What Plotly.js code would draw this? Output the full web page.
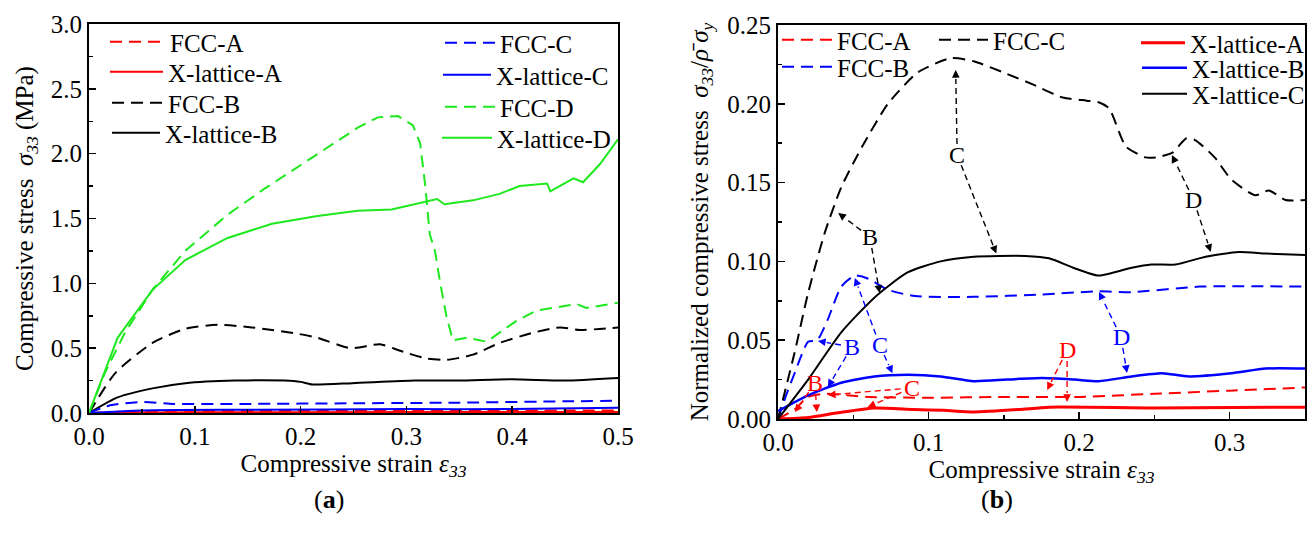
<!DOCTYPE html>
<html><head><meta charset="utf-8">
<script src="https://cdn.plot.ly/plotly-3.0.1.min.js"></script>
<style>html,body{margin:0;padding:0;background:#fff;}#chart{width:1316px;height:534px;}</style>
</head><body><div id="chart"></div>
<script>
// ---------- Panel (a): compressive stress (MPa) vs strain ----------
const aFccA_x = [0, 0.05, 0.2, 0.35, 0.5];
const aFccA_y = [0, 0.015, 0.015, 0.018, 0.02];
const aXlA_x = [0, 0.1, 0.3, 0.5];
const aXlA_y = [0, 0.005, 0.007, 0.008];
const aFccB_x = [0, 0.025, 0.06, 0.091, 0.122, 0.154, 0.198, 0.216, 0.247, 0.275, 0.294, 0.319, 0.338, 0.363, 0.388, 0.42, 0.445, 0.464, 0.5];
const aFccB_y = [0, 0.31, 0.54, 0.65, 0.68, 0.66, 0.61, 0.58, 0.50, 0.53, 0.48, 0.42, 0.41, 0.45, 0.54, 0.62, 0.66, 0.64, 0.66];
const aXlB_x = [0, 0.027, 0.06, 0.091, 0.138, 0.185, 0.2, 0.211, 0.249, 0.308, 0.35, 0.4, 0.45, 0.5];
const aXlB_y = [0, 0.12, 0.19, 0.23, 0.25, 0.25, 0.24, 0.22, 0.23, 0.25, 0.25, 0.26, 0.25, 0.27];
const aFccC_x = [0, 0.02, 0.05, 0.08, 0.15, 0.25, 0.35, 0.45, 0.5];
const aFccC_y = [0, 0.06, 0.085, 0.07, 0.07, 0.075, 0.08, 0.09, 0.095];
const aXlC_x = [0, 0.05, 0.15, 0.3, 0.4, 0.5];
const aXlC_y = [0, 0.02, 0.025, 0.03, 0.03, 0.04];
const aFccD_x = [0, 0.015, 0.034, 0.06, 0.091, 0.131, 0.166, 0.217, 0.254, 0.273, 0.292, 0.306, 0.313, 0.318, 0.322, 0.327, 0.332, 0.338, 0.344, 0.357, 0.376, 0.388, 0.404, 0.423, 0.439, 0.461, 0.47, 0.5];
const aFccD_y = [0, 0.31, 0.62, 0.95, 1.25, 1.53, 1.73, 2.0, 2.2, 2.28, 2.29, 2.22, 2.08, 1.74, 1.38, 1.25, 1.0, 0.74, 0.56, 0.58, 0.55, 0.62, 0.71, 0.79, 0.81, 0.84, 0.81, 0.85];
const aXlD_x = [0, 0.027, 0.06, 0.091, 0.131, 0.173, 0.216, 0.254, 0.286, 0.308, 0.329, 0.336, 0.363, 0.388, 0.407, 0.433, 0.436, 0.458, 0.467, 0.483, 0.5];
const aXlD_y = [0, 0.58, 0.95, 1.18, 1.35, 1.46, 1.52, 1.56, 1.57, 1.61, 1.65, 1.61, 1.64, 1.69, 1.75, 1.77, 1.71, 1.81, 1.78, 1.92, 2.11];

// ---------- Panel (b): normalized stress vs strain ----------
const bFccA_x = [0, 0.011, 0.02, 0.031, 0.06, 0.1, 0.15, 0.2, 0.25, 0.3, 0.35];
const bFccA_y = [0, 0.006, 0.014, 0.016, 0.014, 0.0135, 0.014, 0.014, 0.016, 0.018, 0.02];
const bFccB_x = [0, 0.005, 0.011, 0.02, 0.026, 0.033, 0.042, 0.051, 0.06, 0.073, 0.091, 0.13, 0.175, 0.213, 0.235, 0.28, 0.35];
const bFccB_y = [0, 0.014, 0.029, 0.049, 0.05, 0.063, 0.084, 0.091, 0.089, 0.082, 0.078, 0.0775, 0.079, 0.081, 0.0805, 0.084, 0.084];
const bFccC_x = [0, 0.011, 0.02, 0.031, 0.042, 0.056, 0.073, 0.093, 0.115, 0.13, 0.152, 0.17, 0.189, 0.205, 0.213, 0.22, 0.231, 0.244, 0.251, 0.262, 0.271, 0.277, 0.29, 0.301, 0.317, 0.326, 0.337, 0.35];
const bFccC_y = [0, 0.042, 0.08, 0.118, 0.147, 0.173, 0.2, 0.22, 0.229, 0.227, 0.219, 0.212, 0.204, 0.202, 0.201, 0.197, 0.173, 0.166, 0.166, 0.169, 0.178, 0.177, 0.166, 0.152, 0.142, 0.145, 0.139, 0.139];
const bXlA_x = [0, 0.02, 0.04, 0.064, 0.09, 0.11, 0.13, 0.16, 0.18, 0.25, 0.35];
const bXlA_y = [0, 0.001, 0.004, 0.007, 0.006, 0.0055, 0.0045, 0.006, 0.0075, 0.007, 0.0075];
const bXlB_x = [0, 0.02, 0.042, 0.064, 0.086, 0.108, 0.13, 0.152, 0.175, 0.197, 0.213, 0.235, 0.255, 0.273, 0.301, 0.324, 0.35];
const bXlB_y = [0.005, 0.015, 0.023, 0.027, 0.028, 0.027, 0.024, 0.025, 0.026, 0.025, 0.024, 0.027, 0.029, 0.027, 0.029, 0.032, 0.032];
const bXlC_x = [0, 0.02, 0.042, 0.064, 0.086, 0.108, 0.13, 0.147, 0.164, 0.18, 0.196, 0.213, 0.235, 0.248, 0.264, 0.284, 0.306, 0.324, 0.35];
const bXlC_y = [0, 0.025, 0.055, 0.077, 0.093, 0.1, 0.103, 0.1035, 0.1035, 0.102, 0.096, 0.091, 0.096, 0.098, 0.098, 0.103, 0.106, 0.105, 0.104];

// Arrow callouts in panel (b): label, color, label position, two target points
const calloutText  = ['B', 'C', 'D', 'B', 'C', 'D', 'B', 'C', 'D'];
const calloutColor = ['black', 'black', 'black', 'blue', 'blue', 'blue', 'red', 'red', 'red'];
const calloutX  = [0.061, 0.119, 0.276, 0.049, 0.0675, 0.2278, 0.0245, 0.0887, 0.192];
const calloutY  = [0.1155, 0.1675, 0.139, 0.0457, 0.047, 0.052, 0.0228, 0.0197, 0.0438];
const target1X = [0.040, 0.118, 0.2616, 0.0265, 0.051, 0.2132, 0.0113, 0.0331, 0.1788];
const target1Y = [0.1307, 0.2215, 0.1675, 0.0495, 0.0895, 0.0806, 0.0044, 0.0152, 0.0184];
const target2X = [0.0675, 0.145, 0.2874, 0.0331, 0.076, 0.2318, 0.0258, 0.0596, 0.192];
const target2Y = [0.080, 0.105, 0.106, 0.0203, 0.029, 0.0292, 0.0044, 0.0076, 0.0108];

const RED = '#ff0000', BLUE = '#0000ff', BLACK = '#000000', GREEN = '#1ee81e';
const DASH = '12px,7px';
const FONT = 'Liberation Serif, Times New Roman, serif';
const FS = 25;
const W = 1316, H = 534;

// legend placement per trace: [left px of line sample, centre y px, item width]
const legPos = {
  aFccA: [110, 42, 55], aXlA: [110, 72, 53], aFccB: [112, 103, 51], aXlB: [112, 133, 48],
  aFccC: [445, 43, 50], aXlC: [443, 75, 48], aFccD: [445, 107, 50], aXlD: [442, 138, 50],
  bFccA: [782, 40, 50], bFccB: [782, 67, 50], bFccC: [939, 40, 49],
  bXlA: [1141, 43, 44], bXlB: [1142, 68, 45], bXlC: [1142, 94, 45]
};

const data = [];
const legends = {};
let legN = 0;
function tr(key, x, y, name, color, dash, axes, width, shape) {
  legN++;
  const lname = legN === 1 ? 'legend' : 'legend' + legN;
  const p = legPos[key];
  legends[lname] = {x: (p[0] - 5) / W, y: 1 - p[1] / H, xanchor: 'left', yanchor: 'middle',
    bgcolor: 'rgba(0,0,0,0)', borderwidth: 0, itemwidth: p[2],
    font: {family: FONT, size: FS, color: 'black'}};
  data.push({x: x, y: y, name: name, type: 'scatter', mode: 'lines',
    line: {color: color, dash: dash ? DASH : 'solid', width: width || 2, shape: shape || 'spline', smoothing: 0.6},
    xaxis: axes[0], yaxis: axes[1], legend: lname});
}
const A = ['x', 'y'], B = ['x2', 'y2'];
tr('aFccA', aFccA_x, aFccA_y, 'FCC-A', RED, true, A);
tr('aXlA', aXlA_x, aXlA_y, 'X-lattice-A', RED, false, A);
tr('aFccB', aFccB_x, aFccB_y, 'FCC-B', BLACK, true, A);
tr('aXlB', aXlB_x, aXlB_y, 'X-lattice-B', BLACK, false, A);
tr('aFccC', aFccC_x, aFccC_y, 'FCC-C', BLUE, true, A);
tr('aXlC', aXlC_x, aXlC_y, 'X-lattice-C', BLUE, false, A);
tr('aFccD', aFccD_x, aFccD_y, 'FCC-D', GREEN, true, A, 2, 'linear');
tr('aXlD', aXlD_x, aXlD_y, 'X-lattice-D', GREEN, false, A, 2, 'linear');
tr('bFccA', bFccA_x, bFccA_y, 'FCC-A', RED, true, B);
tr('bFccB', bFccB_x, bFccB_y, 'FCC-B', BLUE, true, B);
tr('bFccC', bFccC_x, bFccC_y, 'FCC-C', BLACK, true, B);
tr('bXlA', bXlA_x, bXlA_y, 'X-lattice-A', RED, false, B, 3);
tr('bXlB', bXlB_x, bXlB_y, 'X-lattice-B', BLUE, false, B, 2.5);
tr('bXlC', bXlC_x, bXlC_y, 'X-lattice-C', BLACK, false, B, 2);

const dA = {x: [89 / W, 618 / W], y: [1 - 413 / H, 1 - 24 / H]};
const dB = {x: [778 / W, 1305 / W], y: [1 - 419 / H, 1 - 25 / H]};
const xB = [0, 0.35], yB = [0, 0.25];
const pxPerX = (dB.x[1] - dB.x[0]) * W / (xB[1] - xB[0]);
const pxPerY = (dB.y[1] - dB.y[0]) * H / (yB[1] - yB[0]);

function axis(dom, range, dtick, minor, fmt, title, anchor, standoff) {
  return {domain: dom, range: range, dtick: dtick, tick0: 0, tickformat: fmt,
    showline: true, linecolor: 'black', linewidth: 2, mirror: true,
    ticks: 'inside', ticklen: 7, tickwidth: 1.5, tickcolor: 'black',
    minor: {dtick: minor, ticks: 'inside', ticklen: 4, tickwidth: 1.5, tickcolor: 'black'},
    showgrid: false, zeroline: false, anchor: anchor, fixedrange: true,
    tickfont: {family: FONT, size: FS, color: 'black'},
    title: {text: title, font: {family: FONT, size: FS, color: 'black'}, standoff: standoff}};
}

const shapes = [], annotations = [];
for (let i = 0; i < calloutText.length; i++) {
  const col = calloutColor[i];
  annotations.push({xref: 'x2', yref: 'y2', x: calloutX[i], y: calloutY[i], text: calloutText[i],
    showarrow: false, font: {family: FONT, size: 24, color: col}});
  [[target1X[i], target1Y[i]], [target2X[i], target2Y[i]]].forEach(t => {
    const dxp = (t[0] - calloutX[i]) * pxPerX, dyp = (t[1] - calloutY[i]) * pxPerY;
    const len = Math.hypot(dxp, dyp);
    const ux = dxp / len, uy = dyp / len;
    const start = 11, head = 9;
    const sx = calloutX[i] + ux * start / pxPerX, sy = calloutY[i] + uy * start / pxPerY;
    const hx = t[0] - ux * head / pxPerX, hy = t[1] - uy * head / pxPerY;
    shapes.push({type: 'line', xref: 'x2', yref: 'y2', x0: sx, y0: sy, x1: hx, y1: hy,
      line: {color: col, width: 1.4, dash: '6px,4px'}});
    annotations.push({xref: 'x2', yref: 'y2', axref: 'x2', ayref: 'y2', x: t[0], y: t[1], ax: hx, ay: hy,
      text: '', showarrow: true, arrowhead: 2, arrowsize: 1.1, arrowwidth: 1.4, arrowcolor: col});
  });
}
annotations.push({xref: 'paper', yref: 'paper', x: 329 / W, y: 1 - 499 / H, xanchor: 'center', yanchor: 'middle',
  text: '(<b>a</b>)', showarrow: false, font: {family: FONT, size: 26, color: 'black'}});
annotations.push({xref: 'paper', yref: 'paper', x: 997 / W, y: 1 - 499 / H, xanchor: 'center', yanchor: 'middle',
  text: '(<b>b</b>)', showarrow: false, font: {family: FONT, size: 26, color: 'black'}});

const layout = Object.assign({
  width: W, height: H, margin: {l: 0, r: 0, t: 0, b: 0}, paper_bgcolor: 'white', plot_bgcolor: 'white',
  showlegend: true,
  xaxis: axis(dA.x, [0, 0.5], 0.1, 0.05, '.1f', 'Compressive strain <i>ε</i><sub><i>33</i></sub>', 'y', 5),
  yaxis: axis(dA.y, [0, 3.0], 0.5, 0.25, '.1f', 'Compressive stress  <i>σ</i><sub><i>33</i></sub> (MPa)', 'x', 10),
  xaxis2: axis(dB.x, xB, 0.1, 0.05, '.1f', 'Compressive strain <i>ε</i><sub><i>33</i></sub>', 'y2', 1),
  yaxis2: axis(dB.y, yB, 0.05, 0.025, '.2f', 'Normalized compressive stress  <i>σ</i><sub><i>33</i></sub>/<i>ρ̄</i> <i>σ</i><sub><i>y</i></sub>', 'x2', 12),
  shapes: shapes, annotations: annotations
}, legends);
Plotly.newPlot('chart', data, layout, {displayModeBar: false, staticPlot: true});
</script></body></html>
